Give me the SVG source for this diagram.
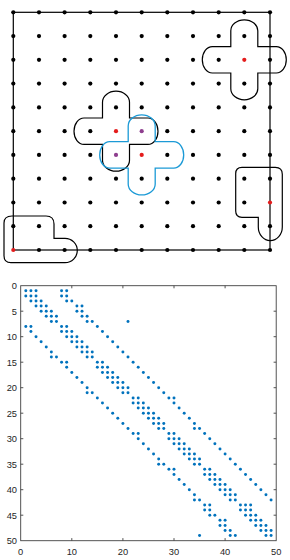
<svg xmlns="http://www.w3.org/2000/svg" xmlns:xlink="http://www.w3.org/1999/xlink" width="290" height="560" viewBox="0 0 290 560">
<style>
.frame{fill:none;stroke:#000;stroke-width:1.2}
.blob{fill:none;stroke:#000;stroke-width:1.2}
.blue{fill:none;stroke:#1c9ad6;stroke-width:1.3}
.gd{fill:#000}
.red{fill:#e41c1c}
.pur{fill:#8e3e8e}
.sd circle{fill:#0072BD}
.ax{fill:none;stroke:#404040;stroke-width:0.9}
.lbl{font-family:"Liberation Sans",Arial,sans-serif;font-size:9.3px;fill:#262626}
</style>
<defs>
<circle id="dot" r="2.1"/>
<path id="cross" d="M-13.5,-13.2 L-13.5,-29 A13.5 11 0 0 1 13.5,-29 L13.5,-13.2 L32,-13.2 A10 13.2 0 0 1 32,13.2 L13.5,13.2 L13.5,29 A13.5 11 0 0 1 -13.5,29 L-13.5,13.2 L-32,13.2 A10 13.2 0 0 1 -32,-13.2 Z"/>
</defs>

<g id="grid-frame">
<rect class="frame" x="13.3" y="12.3" width="256.7" height="237.7"/>
</g>

<g id="stencils">
<use id="cross-upper-right" xlink:href="#cross" href="#cross" class="blob" transform="translate(244.3 59.8)"/>
<use id="cross-center-black" xlink:href="#cross" href="#cross" class="blob" transform="translate(116 131.2)"/>
<use id="cross-center-blue" xlink:href="#cross" href="#cross" class="blue" transform="translate(141.7 154.9)"/>
<path id="corner-bottom-left" class="blob" d="M12,216 L46,216 Q54,216 54,224 L54,238.3 L65,238.3 A12.3 12.2 0 0 1 65,262.7 L11,262.7 Q4,262.7 4,255.7 L4,223 Q4,216 12,216 Z"/>
<path id="edge-right" class="blob" d="M242,167.3 L275.3,167.3 Q282.3,167.3 282.3,174.3 L282.3,227 A12 13.7 0 0 1 258.3,227 L258.3,217.3 L242,217.3 Q235.7,217.3 235.7,211 L235.7,173.6 Q235.7,167.3 242,167.3 Z"/>
</g>

<g id="grid-dots" class="gd">
<g transform="translate(0 12.3)"><use href="#dot" x="13.3"/><use href="#dot" x="39"/><use href="#dot" x="64.6"/><use href="#dot" x="90.3"/><use href="#dot" x="116"/><use href="#dot" x="141.7"/><use href="#dot" x="167.3"/><use href="#dot" x="193"/><use href="#dot" x="218.7"/><use href="#dot" x="244.3"/><use href="#dot" x="270"/></g>
<g transform="translate(0 36.1)"><use href="#dot" x="13.3"/><use href="#dot" x="39"/><use href="#dot" x="64.6"/><use href="#dot" x="90.3"/><use href="#dot" x="116"/><use href="#dot" x="141.7"/><use href="#dot" x="167.3"/><use href="#dot" x="193"/><use href="#dot" x="218.7"/><use href="#dot" x="244.3"/><use href="#dot" x="270"/></g>
<g transform="translate(0 59.8)"><use href="#dot" x="13.3"/><use href="#dot" x="39"/><use href="#dot" x="64.6"/><use href="#dot" x="90.3"/><use href="#dot" x="116"/><use href="#dot" x="141.7"/><use href="#dot" x="167.3"/><use href="#dot" x="193"/><use href="#dot" x="218.7"/><use href="#dot" x="270"/></g>
<g transform="translate(0 83.6)"><use href="#dot" x="13.3"/><use href="#dot" x="39"/><use href="#dot" x="64.6"/><use href="#dot" x="90.3"/><use href="#dot" x="116"/><use href="#dot" x="141.7"/><use href="#dot" x="167.3"/><use href="#dot" x="193"/><use href="#dot" x="218.7"/><use href="#dot" x="244.3"/><use href="#dot" x="270"/></g>
<g transform="translate(0 107.4)"><use href="#dot" x="13.3"/><use href="#dot" x="39"/><use href="#dot" x="64.6"/><use href="#dot" x="90.3"/><use href="#dot" x="116"/><use href="#dot" x="141.7"/><use href="#dot" x="167.3"/><use href="#dot" x="193"/><use href="#dot" x="218.7"/><use href="#dot" x="244.3"/><use href="#dot" x="270"/></g>
<g transform="translate(0 131.2)"><use href="#dot" x="13.3"/><use href="#dot" x="39"/><use href="#dot" x="64.6"/><use href="#dot" x="90.3"/><use href="#dot" x="167.3"/><use href="#dot" x="193"/><use href="#dot" x="218.7"/><use href="#dot" x="244.3"/><use href="#dot" x="270"/></g>
<g transform="translate(0 154.9)"><use href="#dot" x="13.3"/><use href="#dot" x="39"/><use href="#dot" x="64.6"/><use href="#dot" x="90.3"/><use href="#dot" x="167.3"/><use href="#dot" x="193"/><use href="#dot" x="218.7"/><use href="#dot" x="244.3"/><use href="#dot" x="270"/></g>
<g transform="translate(0 178.7)"><use href="#dot" x="13.3"/><use href="#dot" x="39"/><use href="#dot" x="64.6"/><use href="#dot" x="90.3"/><use href="#dot" x="116"/><use href="#dot" x="141.7"/><use href="#dot" x="167.3"/><use href="#dot" x="193"/><use href="#dot" x="218.7"/><use href="#dot" x="244.3"/><use href="#dot" x="270"/></g>
<g transform="translate(0 202.5)"><use href="#dot" x="13.3"/><use href="#dot" x="39"/><use href="#dot" x="64.6"/><use href="#dot" x="90.3"/><use href="#dot" x="116"/><use href="#dot" x="141.7"/><use href="#dot" x="167.3"/><use href="#dot" x="193"/><use href="#dot" x="218.7"/><use href="#dot" x="244.3"/></g>
<g transform="translate(0 226.2)"><use href="#dot" x="13.3"/><use href="#dot" x="39"/><use href="#dot" x="64.6"/><use href="#dot" x="90.3"/><use href="#dot" x="116"/><use href="#dot" x="141.7"/><use href="#dot" x="167.3"/><use href="#dot" x="193"/><use href="#dot" x="218.7"/><use href="#dot" x="244.3"/><use href="#dot" x="270"/></g>
<g transform="translate(0 250)"><use href="#dot" x="39"/><use href="#dot" x="64.6"/><use href="#dot" x="90.3"/><use href="#dot" x="116"/><use href="#dot" x="141.7"/><use href="#dot" x="167.3"/><use href="#dot" x="193"/><use href="#dot" x="218.7"/><use href="#dot" x="244.3"/><use href="#dot" x="270"/></g>
</g>

<g id="marked-dots">
<use href="#dot" class="red" x="244.3" y="59.8"/>
<use href="#dot" class="red" x="116" y="131.2"/>
<use href="#dot" class="pur" x="141.7" y="131.2"/>
<use href="#dot" class="pur" x="116" y="154.9"/>
<use href="#dot" class="red" x="141.7" y="154.9"/>
<use href="#dot" class="red" x="270" y="202.5"/>
<use href="#dot" class="red" x="13.3" y="250"/>
</g>

<g id="spy-axes">
<rect class="ax" x="20.7" y="285.7" width="255.5" height="255"/>
<path class="ax" d="M71.8,540.7v-2.6M122.9,540.7v-2.6M174,540.7v-2.6M225.1,540.7v-2.6M71.8,285.7v2.6M122.9,285.7v2.6M174,285.7v2.6M225.1,285.7v2.6M20.7,311.2h2.6M20.7,336.7h2.6M20.7,362.2h2.6M20.7,387.7h2.6M20.7,413.2h2.6M20.7,438.7h2.6M20.7,464.2h2.6M20.7,489.7h2.6M20.7,515.2h2.6M276.2,311.2h-2.6M276.2,336.7h-2.6M276.2,362.2h-2.6M276.2,387.7h-2.6M276.2,413.2h-2.6M276.2,438.7h-2.6M276.2,464.2h-2.6M276.2,489.7h-2.6M276.2,515.2h-2.6"/>
<g class="lbl" text-anchor="end">
<text x="17" y="289">0</text>
<text x="17" y="314.5">5</text>
<text x="17" y="340">10</text>
<text x="17" y="365.5">15</text>
<text x="17" y="391">20</text>
<text x="17" y="416.5">25</text>
<text x="17" y="442">30</text>
<text x="17" y="467.5">35</text>
<text x="17" y="493">40</text>
<text x="17" y="518.5">45</text>
<text x="17" y="544">50</text>
</g>
<g class="lbl" text-anchor="middle">
<text x="20.7" y="554.5">0</text>
<text x="71.8" y="554.5">10</text>
<text x="122.9" y="554.5">20</text>
<text x="174" y="554.5">30</text>
<text x="225.1" y="554.5">40</text>
<text x="276.2" y="554.5">50</text>
</g>
</g>

<g id="spy-dots" class="sd" transform="translate(20.7 285.7) scale(5.11 5.1)">
<g transform="translate(0 1)"><circle cx="1" r=".29"/><circle cx="2" r=".29"/><circle cx="3" r=".29"/><circle cx="8" r=".29"/><circle cx="9" r=".29"/></g>
<g transform="translate(0 2)"><circle cx="1" r=".29"/><circle cx="2" r=".29"/><circle cx="3" r=".29"/><circle cx="8" r=".29"/><circle cx="9" r=".29"/></g>
<g transform="translate(0 3)"><circle cx="2" r=".29"/><circle cx="3" r=".29"/><circle cx="4" r=".29"/><circle cx="9" r=".29"/><circle cx="10" r=".29"/></g>
<g transform="translate(0 4)"><circle cx="3" r=".29"/><circle cx="4" r=".29"/><circle cx="5" r=".29"/><circle cx="11" r=".29"/><circle cx="12" r=".29"/></g>
<g transform="translate(0 5)"><circle cx="4" r=".29"/><circle cx="5" r=".29"/><circle cx="6" r=".29"/><circle cx="11" r=".29"/><circle cx="12" r=".29"/></g>
<g transform="translate(0 6)"><circle cx="5" r=".29"/><circle cx="6" r=".29"/><circle cx="7" r=".29"/><circle cx="12" r=".29"/><circle cx="13" r=".29"/></g>
<g transform="translate(0 7)"><circle cx="6" r=".29"/><circle cx="7" r=".29"/><circle cx="13" r=".29"/><circle cx="14" r=".29"/><circle cx="21" r=".29"/></g>
<g transform="translate(0 8)"><circle cx="1" r=".29"/><circle cx="2" r=".29"/><circle cx="8" r=".29"/><circle cx="9" r=".29"/><circle cx="15" r=".29"/></g>
<g transform="translate(0 9)"><circle cx="2" r=".29"/><circle cx="8" r=".29"/><circle cx="9" r=".29"/><circle cx="10" r=".29"/><circle cx="16" r=".29"/></g>
<g transform="translate(0 10)"><circle cx="3" r=".29"/><circle cx="9" r=".29"/><circle cx="10" r=".29"/><circle cx="11" r=".29"/><circle cx="17" r=".29"/></g>
<g transform="translate(0 11)"><circle cx="4" r=".29"/><circle cx="10" r=".29"/><circle cx="11" r=".29"/><circle cx="12" r=".29"/><circle cx="18" r=".29"/></g>
<g transform="translate(0 12)"><circle cx="5" r=".29"/><circle cx="11" r=".29"/><circle cx="12" r=".29"/><circle cx="13" r=".29"/><circle cx="19" r=".29"/></g>
<g transform="translate(0 13)"><circle cx="6" r=".29"/><circle cx="12" r=".29"/><circle cx="13" r=".29"/><circle cx="14" r=".29"/><circle cx="20" r=".29"/></g>
<g transform="translate(0 14)"><circle cx="6" r=".29"/><circle cx="7" r=".29"/><circle cx="13" r=".29"/><circle cx="14" r=".29"/><circle cx="21" r=".29"/></g>
<g transform="translate(0 15)"><circle cx="8" r=".29"/><circle cx="9" r=".29"/><circle cx="15" r=".29"/><circle cx="16" r=".29"/><circle cx="22" r=".29"/></g>
<g transform="translate(0 16)"><circle cx="9" r=".29"/><circle cx="15" r=".29"/><circle cx="16" r=".29"/><circle cx="17" r=".29"/><circle cx="23" r=".29"/></g>
<g transform="translate(0 17)"><circle cx="10" r=".29"/><circle cx="16" r=".29"/><circle cx="17" r=".29"/><circle cx="18" r=".29"/><circle cx="24" r=".29"/></g>
<g transform="translate(0 18)"><circle cx="11" r=".29"/><circle cx="17" r=".29"/><circle cx="18" r=".29"/><circle cx="19" r=".29"/><circle cx="25" r=".29"/></g>
<g transform="translate(0 19)"><circle cx="12" r=".29"/><circle cx="18" r=".29"/><circle cx="19" r=".29"/><circle cx="20" r=".29"/><circle cx="26" r=".29"/></g>
<g transform="translate(0 20)"><circle cx="13" r=".29"/><circle cx="19" r=".29"/><circle cx="20" r=".29"/><circle cx="21" r=".29"/><circle cx="27" r=".29"/></g>
<g transform="translate(0 21)"><circle cx="13" r=".29"/><circle cx="14" r=".29"/><circle cx="20" r=".29"/><circle cx="21" r=".29"/><circle cx="28" r=".29"/></g>
<g transform="translate(0 22)"><circle cx="15" r=".29"/><circle cx="22" r=".29"/><circle cx="23" r=".29"/><circle cx="29" r=".29"/><circle cx="30" r=".29"/></g>
<g transform="translate(0 23)"><circle cx="16" r=".29"/><circle cx="22" r=".29"/><circle cx="23" r=".29"/><circle cx="24" r=".29"/><circle cx="30" r=".29"/></g>
<g transform="translate(0 24)"><circle cx="17" r=".29"/><circle cx="23" r=".29"/><circle cx="24" r=".29"/><circle cx="25" r=".29"/><circle cx="31" r=".29"/></g>
<g transform="translate(0 25)"><circle cx="18" r=".29"/><circle cx="24" r=".29"/><circle cx="25" r=".29"/><circle cx="26" r=".29"/><circle cx="32" r=".29"/></g>
<g transform="translate(0 26)"><circle cx="19" r=".29"/><circle cx="25" r=".29"/><circle cx="26" r=".29"/><circle cx="27" r=".29"/><circle cx="33" r=".29"/></g>
<g transform="translate(0 27)"><circle cx="20" r=".29"/><circle cx="26" r=".29"/><circle cx="27" r=".29"/><circle cx="28" r=".29"/><circle cx="34" r=".29"/></g>
<g transform="translate(0 28)"><circle cx="21" r=".29"/><circle cx="27" r=".29"/><circle cx="28" r=".29"/><circle cx="34" r=".29"/><circle cx="35" r=".29"/></g>
<g transform="translate(0 29)"><circle cx="22" r=".29"/><circle cx="23" r=".29"/><circle cx="29" r=".29"/><circle cx="30" r=".29"/><circle cx="36" r=".29"/></g>
<g transform="translate(0 30)"><circle cx="23" r=".29"/><circle cx="29" r=".29"/><circle cx="30" r=".29"/><circle cx="31" r=".29"/><circle cx="37" r=".29"/></g>
<g transform="translate(0 31)"><circle cx="24" r=".29"/><circle cx="30" r=".29"/><circle cx="31" r=".29"/><circle cx="32" r=".29"/><circle cx="38" r=".29"/></g>
<g transform="translate(0 32)"><circle cx="25" r=".29"/><circle cx="31" r=".29"/><circle cx="32" r=".29"/><circle cx="33" r=".29"/><circle cx="39" r=".29"/></g>
<g transform="translate(0 33)"><circle cx="26" r=".29"/><circle cx="32" r=".29"/><circle cx="33" r=".29"/><circle cx="34" r=".29"/><circle cx="40" r=".29"/></g>
<g transform="translate(0 34)"><circle cx="27" r=".29"/><circle cx="33" r=".29"/><circle cx="34" r=".29"/><circle cx="35" r=".29"/><circle cx="41" r=".29"/></g>
<g transform="translate(0 35)"><circle cx="27" r=".29"/><circle cx="28" r=".29"/><circle cx="34" r=".29"/><circle cx="35" r=".29"/><circle cx="42" r=".29"/></g>
<g transform="translate(0 36)"><circle cx="29" r=".29"/><circle cx="30" r=".29"/><circle cx="36" r=".29"/><circle cx="37" r=".29"/><circle cx="43" r=".29"/></g>
<g transform="translate(0 37)"><circle cx="30" r=".29"/><circle cx="36" r=".29"/><circle cx="37" r=".29"/><circle cx="38" r=".29"/><circle cx="44" r=".29"/></g>
<g transform="translate(0 38)"><circle cx="31" r=".29"/><circle cx="37" r=".29"/><circle cx="38" r=".29"/><circle cx="39" r=".29"/><circle cx="45" r=".29"/></g>
<g transform="translate(0 39)"><circle cx="32" r=".29"/><circle cx="38" r=".29"/><circle cx="39" r=".29"/><circle cx="40" r=".29"/><circle cx="46" r=".29"/></g>
<g transform="translate(0 40)"><circle cx="33" r=".29"/><circle cx="39" r=".29"/><circle cx="40" r=".29"/><circle cx="41" r=".29"/><circle cx="47" r=".29"/></g>
<g transform="translate(0 41)"><circle cx="34" r=".29"/><circle cx="40" r=".29"/><circle cx="41" r=".29"/><circle cx="42" r=".29"/><circle cx="48" r=".29"/></g>
<g transform="translate(0 42)"><circle cx="34" r=".29"/><circle cx="35" r=".29"/><circle cx="41" r=".29"/><circle cx="42" r=".29"/><circle cx="49" r=".29"/></g>
<g transform="translate(0 43)"><circle cx="36" r=".29"/><circle cx="37" r=".29"/><circle cx="43" r=".29"/><circle cx="44" r=".29"/><circle cx="45" r=".29"/></g>
<g transform="translate(0 44)"><circle cx="36" r=".29"/><circle cx="37" r=".29"/><circle cx="43" r=".29"/><circle cx="44" r=".29"/><circle cx="45" r=".29"/></g>
<g transform="translate(0 45)"><circle cx="37" r=".29"/><circle cx="38" r=".29"/><circle cx="44" r=".29"/><circle cx="45" r=".29"/><circle cx="46" r=".29"/></g>
<g transform="translate(0 46)"><circle cx="39" r=".29"/><circle cx="40" r=".29"/><circle cx="45" r=".29"/><circle cx="46" r=".29"/><circle cx="47" r=".29"/></g>
<g transform="translate(0 47)"><circle cx="39" r=".29"/><circle cx="40" r=".29"/><circle cx="46" r=".29"/><circle cx="47" r=".29"/><circle cx="48" r=".29"/></g>
<g transform="translate(0 48)"><circle cx="40" r=".29"/><circle cx="41" r=".29"/><circle cx="47" r=".29"/><circle cx="48" r=".29"/><circle cx="49" r=".29"/></g>
<g transform="translate(0 49)"><circle cx="35" r=".29"/><circle cx="41" r=".29"/><circle cx="42" r=".29"/><circle cx="48" r=".29"/><circle cx="49" r=".29"/></g>
</g>
</svg>
